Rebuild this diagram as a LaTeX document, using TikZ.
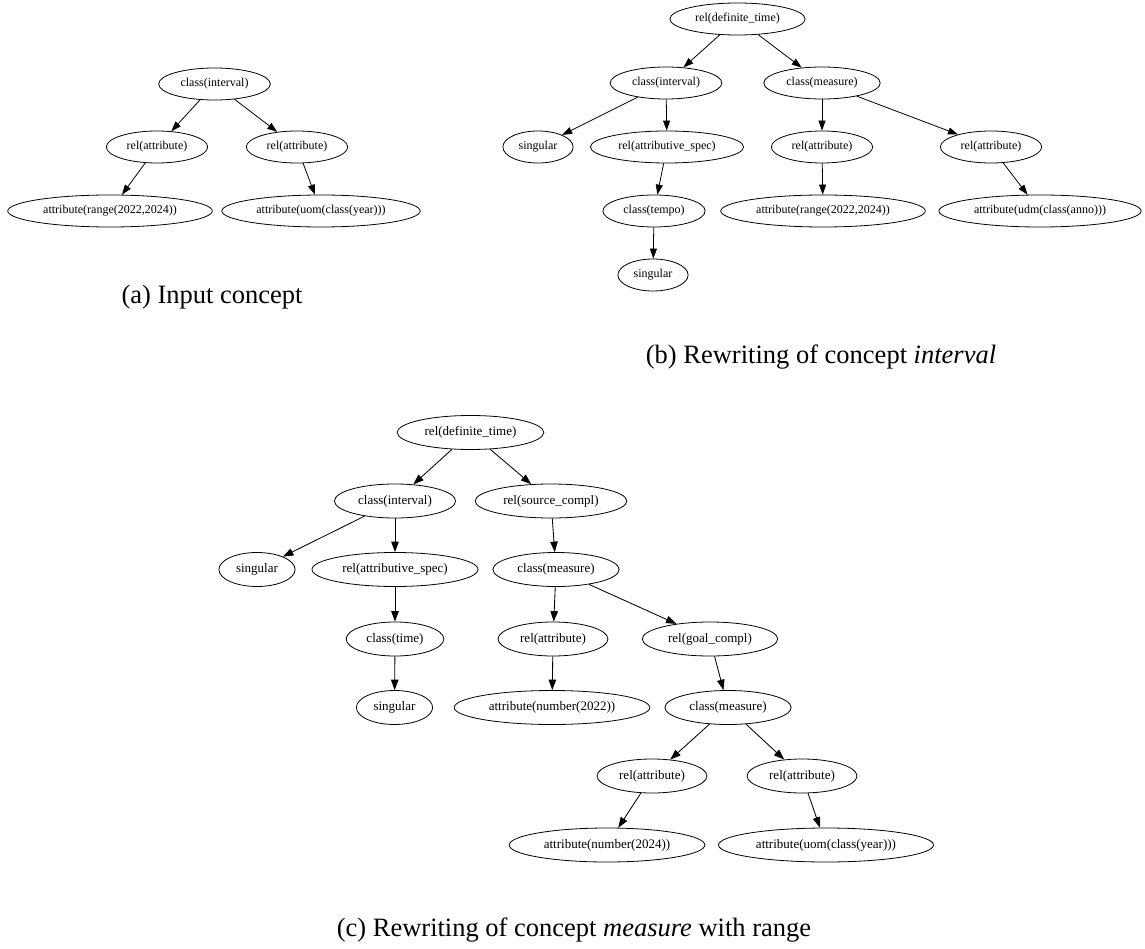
\documentclass[tikz,border=0pt]{standalone}
\usepackage{fontspec}
\setmainfont{Liberation Serif}
\usetikzlibrary{shapes.geometric,arrows.meta}
\begin{document}
\begin{tikzpicture}[x=1pt,y=-1pt,
  nd/.style={ellipse,draw,line width=0.8pt,inner xsep=5.5pt,inner ysep=0pt,minimum height=32pt,font=\fontsize{12}{14}\selectfont},
  ndc/.style={nd,minimum height=34pt,inner xsep=6pt,font=\fontsize{13}{15}\selectfont},
  ed/.style={line width=0.8pt,-{Triangle[length=10pt,width=7pt]}},
  edc/.style={line width=0.85pt,-{Triangle[length=10.5pt,width=7.5pt]}},
  captxt/.style={anchor=base,font=\fontsize{26.5}{30}\selectfont,inner sep=0pt}]
\useasboundingbox (0,0) rectangle (1145,949);
% (a)
\node[nd] (a1) at (214.5,84) {class(interval)};
\node[nd] (a2) at (157,147) {rel(attribute)};
\node[nd] (a3) at (297,147) {rel(attribute)};
\node[nd] (a4) at (110,211) {attribute(range(2022,2024))};
\node[nd] (a5) at (321,211) {attribute(uom(class(year)))};
\draw[ed] (a1) -- (a2);
\draw[ed] (a1) -- (a3);
\draw[ed] (a2) -- (a4);
\draw[ed] (a3) -- (a5);
\node[captxt] (capa) at (212,304) {(a) Input concept};
% (b)
\node[nd] (b1) at (737.5,19) {rel(definite\_time)};
\node[nd] (b2) at (666,83) {class(interval)};
\node[nd] (b3) at (822,83) {class(measure)};
\node[nd] (b4) at (538,147) {singular};
\node[nd] (b5) at (667,147) {rel(attributive\_spec)};
\node[nd] (b6) at (822,147) {rel(attribute)};
\node[nd] (b7) at (991,147) {rel(attribute)};
\node[nd] (b8) at (654,211) {class(tempo)};
\node[nd] (b9) at (823,211) {attribute(range(2022,2024))};
\node[nd] (b10) at (1040,211) {attribute(udm(class(anno)))};
\node[nd] (b11) at (653,275) {singular};
\draw[ed] (b1) -- (b2);
\draw[ed] (b1) -- (b3);
\draw[ed] (b2) -- (b4);
\draw[ed] (b2) -- (b5);
\draw[ed] (b5) -- (b8);
\draw[ed] (b8) -- (b11);
\draw[ed] (b3) -- (b6);
\draw[ed] (b3) -- (b7);
\draw[ed] (b6) -- (b9);
\draw[ed] (b7) -- (b10);
\node[captxt] (capb) at (821,363) {(b) Rewriting of concept \textit{interval}};
% (c)
\node[ndc] (c1) at (470.5,432.5) {rel(definite\_time)};
\node[ndc] (c2) at (395,501) {class(interval)};
\node[ndc] (c3) at (551,501) {rel(source\_compl)};
\node[ndc] (c4) at (257,569.5) {singular};
\node[ndc] (c5) at (395,569.5) {rel(attributive\_spec)};
\node[ndc] (c6) at (556,569.5) {class(measure)};
\node[ndc] (c7) at (395,639) {class(time)};
\node[ndc] (c8) at (553,639) {rel(attribute)};
\node[ndc] (c9) at (710,639) {rel(goal\_compl)};
\node[ndc] (c10) at (394.5,707.5) {singular};
\node[ndc] (c11) at (552,707.5) {attribute(number(2022))};
\node[ndc] (c12) at (728,707.5) {class(measure)};
\node[ndc] (c13) at (652,776) {rel(attribute)};
\node[ndc] (c14) at (802,776) {rel(attribute)};
\node[ndc] (c15) at (607,845) {attribute(number(2024))};
\node[ndc] (c16) at (826,845) {attribute(uom(class(year)))};
\draw[edc] (c1) -- (c2);
\draw[edc] (c1) -- (c3);
\draw[edc] (c2) -- (c4);
\draw[edc] (c2) -- (c5);
\draw[edc] (c5) -- (c7);
\draw[edc] (c7) -- (c10);
\draw[edc] (c3) -- (c6);
\draw[edc] (c6) -- (c8);
\draw[edc] (c6) -- (c9);
\draw[edc] (c8) -- (c11);
\draw[edc] (c9) -- (c12);
\draw[edc] (c12) -- (c13);
\draw[edc] (c12) -- (c14);
\draw[edc] (c13) -- (c15);
\draw[edc] (c14) -- (c16);
\node[captxt] (capc) at (574,936) {(c) Rewriting of concept \textit{measure} with range};
\end{tikzpicture}
\end{document}
